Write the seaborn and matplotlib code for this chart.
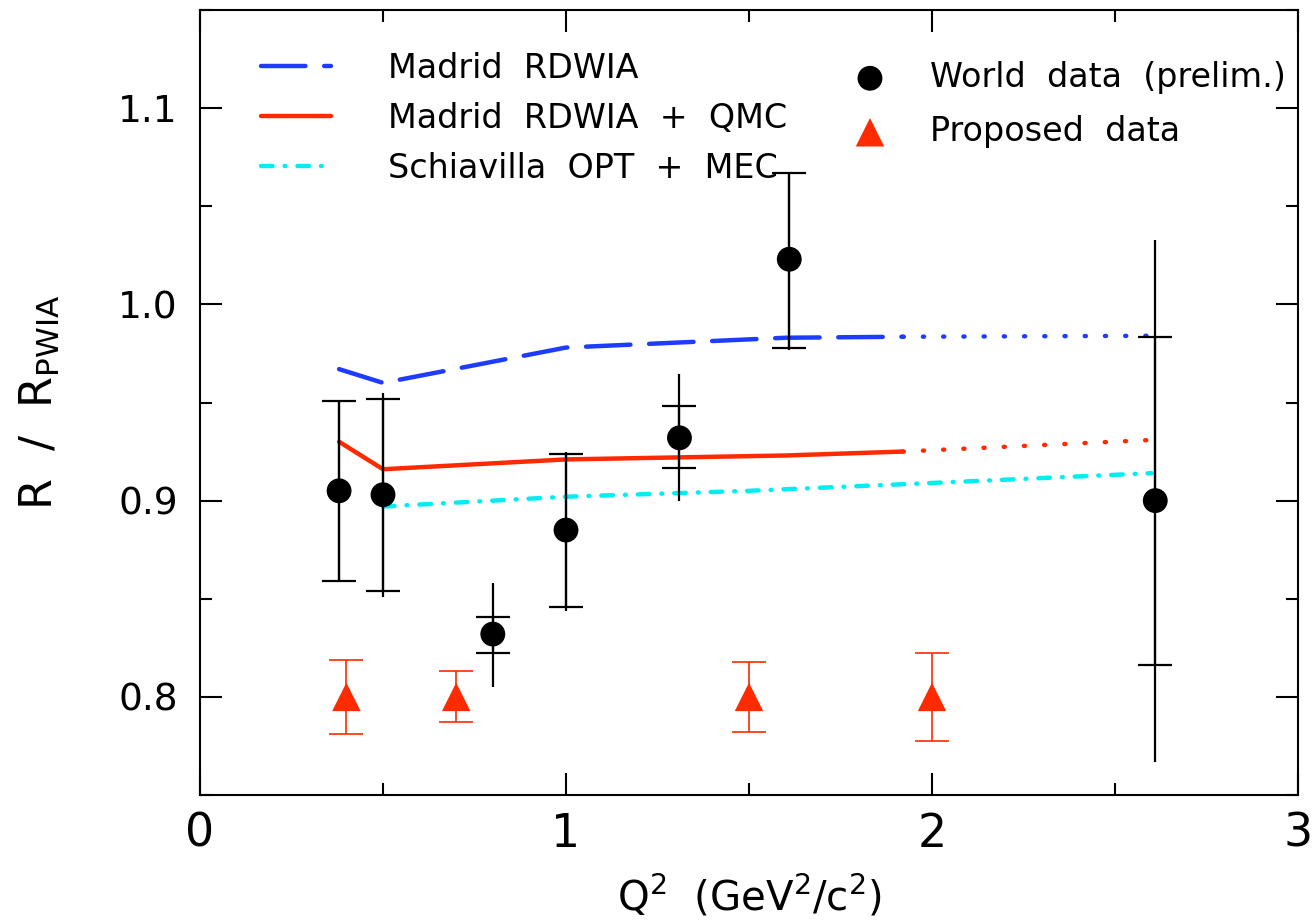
import matplotlib
matplotlib.use("Agg")
import matplotlib.pyplot as plt
import seaborn as sns
from matplotlib.ticker import MultipleLocator

# model curves: full calculation up to Q2 = 1.92, dotted (extrapolated) beyond
q2_model = [0.38, 0.50, 1.00, 1.60, 1.92, 2.61]
madrid_rdwia = [0.967, 0.960, 0.978, 0.983, 0.9835, 0.984]
madrid_qmc = [0.930, 0.916, 0.921, 0.923, 0.925, 0.931]
split = 4

q2_schiavilla = [0.50, 1.00, 1.50, 2.00, 2.60]
schiavilla = [0.897, 0.902, 0.905, 0.909, 0.914]

# world data (prelim.), inner = statistical, outer = total
q2_world = [0.38, 0.50, 0.80, 1.00, 1.31, 1.61, 2.61]
r_world = [0.905, 0.903, 0.832, 0.885, 0.932, 1.023, 0.900]
world_stat_lo = [0.859, 0.854, 0.8226, 0.846, 0.9168, 0.978, 0.816]
world_stat_hi = [0.951, 0.952, 0.8405, 0.924, 0.948, 1.067, 0.9836]
world_tot_lo = [0.859, 0.851, 0.805, 0.844, 0.900, 0.977, 0.767]
world_tot_hi = [0.951, 0.955, 0.858, 0.925, 0.9646, 1.067, 1.033]

# proposed data
q2_proposed = [0.40, 0.70, 1.50, 2.00]
r_proposed = [0.800, 0.800, 0.800, 0.800]
err_proposed = [0.019, 0.013, 0.018, 0.0225]

blue = "#1E3CFF"
red = "#FF2A00"
cyan = "#00EEF2"

sns.set_style("ticks")
plt.rcParams["font.family"] = ["DejaVu Sans"]
plt.rcParams["mathtext.default"] = "regular"
for k in ["text.color", "axes.labelcolor", "xtick.color", "ytick.color"]:
    plt.rcParams[k] = "black"

fig = plt.figure(figsize=(13.15, 9.22), dpi=100)
ax = fig.add_axes([200 / 1315, 1 - 795 / 922, 1098 / 1315, 785 / 922])

lw = 3.2
dotted = (0, (0.25, 4.3))

sns.lineplot(x=q2_model[:split + 1], y=madrid_rdwia[:split + 1], ax=ax, color=blue,
             linewidth=lw, linestyle=(0, (10, 4.2)), dash_capstyle="round",
             label="Madrid  RDWIA")
sns.lineplot(x=q2_model[split:], y=madrid_rdwia[split:], ax=ax, color=blue,
             linewidth=lw, linestyle=dotted, dash_capstyle="round")
sns.lineplot(x=q2_model[:split + 1], y=madrid_qmc[:split + 1], ax=ax, color=red,
             linewidth=lw, solid_capstyle="round", label="Madrid  RDWIA  +  QMC")
sns.lineplot(x=q2_model[split:], y=madrid_qmc[split:], ax=ax, color=red,
             linewidth=lw, linestyle=dotted, dash_capstyle="round")
sns.lineplot(x=q2_schiavilla, y=schiavilla, ax=ax, color=cyan, linewidth=lw,
             linestyle=(0, (2.6, 2.7, 0.2, 2.7)), dash_capstyle="round",
             label="Schiavilla  OPT  +  MEC")

# error bars
ax.errorbar(q2_world, r_world,
            yerr=[[r - lo for r, lo in zip(r_world, world_tot_lo)],
                  [hi - r for r, hi in zip(r_world, world_tot_hi)]],
            fmt="none", ecolor="black", elinewidth=1.6, capsize=0, zorder=3)
ax.errorbar(q2_world, r_world,
            yerr=[[r - lo for r, lo in zip(r_world, world_stat_lo)],
                  [hi - r for r, hi in zip(r_world, world_stat_hi)]],
            fmt="none", ecolor="black", elinewidth=1.6, capsize=12,
            capthick=1.6, zorder=3)
ax.errorbar(q2_proposed, r_proposed, yerr=err_proposed, fmt="none",
            ecolor=red, elinewidth=1.2, capsize=12, capthick=1.2, zorder=3)

sns.scatterplot(x=q2_world, y=r_world, ax=ax, color="black", marker="o",
                s=320, edgecolor="none", zorder=4, label="World  data  (prelim.)")
sns.scatterplot(x=q2_proposed, y=r_proposed, ax=ax, color=red, marker="^",
                s=420, edgecolor="none", zorder=4, label="Proposed  data")

ax.set_xlim(0, 3)
ax.set_ylim(0.75, 1.15)
ax.xaxis.set_major_locator(MultipleLocator(1))
ax.xaxis.set_minor_locator(MultipleLocator(0.5))
ax.yaxis.set_minor_locator(MultipleLocator(0.05))
ax.set_yticks([0.8, 0.9, 1.0, 1.1])
ax.set_yticklabels(["0.8", "0.9", "1.0", "1.1"])

ax.tick_params(which="both", direction="in", top=True, right=True, width=1.5,
               color="black")
ax.tick_params(which="major", length=16)
ax.tick_params(which="minor", length=8.5)
ax.tick_params(axis="y", which="major", labelsize=27, pad=16)
ax.tick_params(axis="x", which="major", labelsize=33, pad=12)
for sp in ax.spines.values():
    sp.set_linewidth(1.5)
    sp.set_color("black")

ax.set_xlabel("Q$^2$  (GeV$^2$/c$^2$)", fontsize=29)
ax.xaxis.set_label_coords(0.5, -0.1)
ax.set_ylabel("R  /  R$_{PWIA}$", fontsize=32)
ax.yaxis.set_label_coords(-0.126, 0.5)

handles, labels = ax.get_legend_handles_labels()
leg1 = ax.legend(handles[:3], labels[:3], loc="upper left",
                 bbox_to_anchor=(0.056, 0.947), frameon=False, fontsize=24,
                 handlelength=2.1, handletextpad=1.7, labelspacing=0.51,
                 borderpad=0, borderaxespad=0)
ax.add_artist(leg1)
ax.legend(handles[3:], labels[3:], loc="upper left",
          bbox_to_anchor=(0.595, 0.935), frameon=False, fontsize=24,
          handlelength=1.0, handletextpad=1.3, labelspacing=0.63,
          borderpad=0, borderaxespad=0)

fig.savefig("out.png", dpi=100)
